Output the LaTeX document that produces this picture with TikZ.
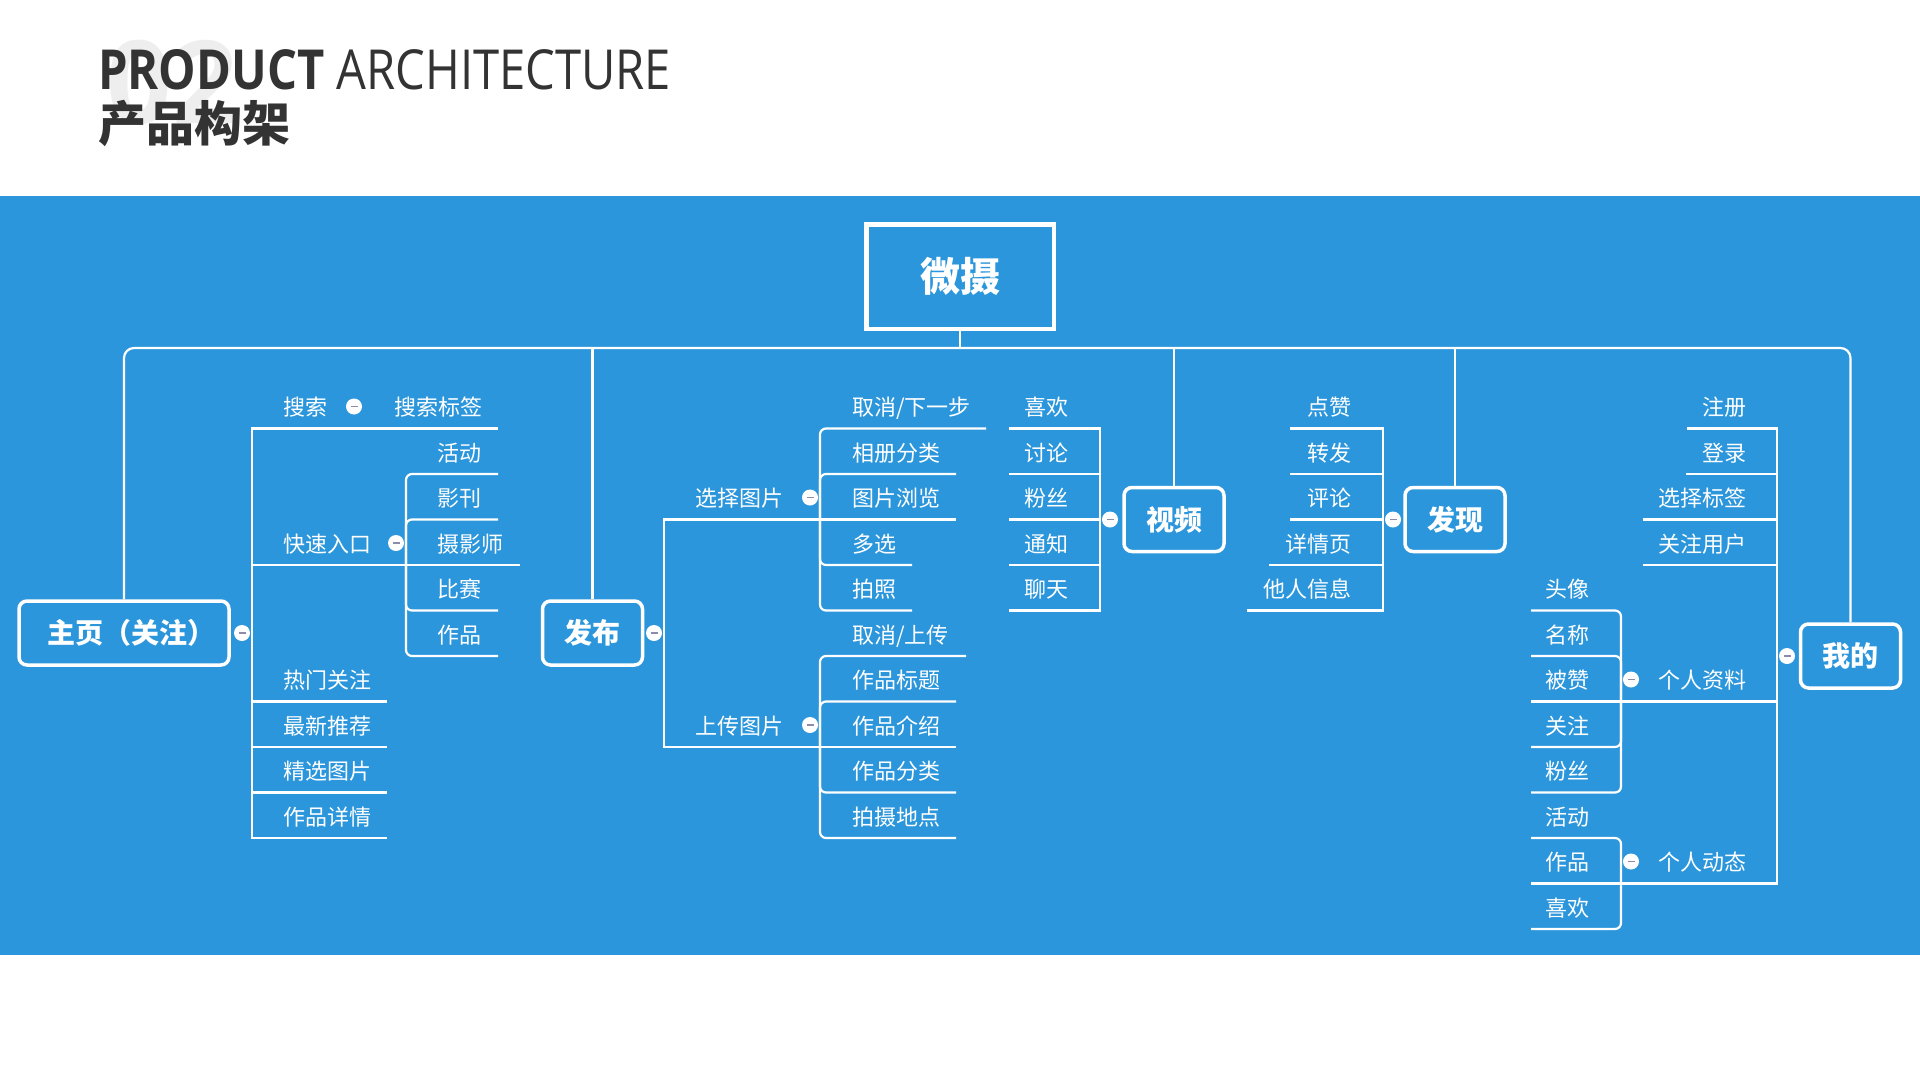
\documentclass[tikz,border=0pt]{standalone}
\usepackage{fontspec}
\newfontfamily\cjk{Noto Sans CJK SC}
\newfontfamily\titlefont{Open Sans}
\definecolor{band}{RGB}{43,150,219}
\definecolor{titlec}{RGB}{51,51,51}
\definecolor{minusc}{RGB}{140,140,170}
\definecolor{wm}{RGB}{238,238,238}
\begin{document}
\begin{tikzpicture}[x=1pt,y=-1pt,
  l1/.style={draw=white, line width=2.2pt},
  l2/.style={l1, rounded corners=6pt},
  lbl/.style={inner sep=0, text=white, font=\cjk\fontsize{22}{22}\selectfont, text height=19.35pt, text depth=2.65pt},
  box/.style={draw=white, line width=3.5pt, rounded corners=8pt, minimum width=100pt, minimum height=64pt, inner sep=0, text=white, font=\cjk\bfseries\fontsize{28}{28}\selectfont, text height=24.6pt, text depth=3.4pt},
  rootbox/.style={draw=white, line width=4.5pt, minimum width=187.5pt, minimum height=104.5pt, inner sep=0, text=white, font=\cjk\bfseries\fontsize{40}{40}\selectfont, text height=35.2pt, text depth=4.8pt},
  circ/.style={circle, fill=white, inner sep=0, minimum size=16pt, path picture={\draw[minusc, line width=1.8pt] ([xshift=-3.5pt]path picture bounding box.center) -- ([xshift=3.5pt]path picture bounding box.center);}}
]
\useasboundingbox (0,0) rectangle (1920,1080);
\fill[white] (0,0) rectangle (1920,1080);
\fill[band] (0,196) rectangle (1920,954.5);

% title
\node[inner sep=0, text=wm, font=\titlefont\bfseries\fontsize{115}{115}\selectfont] (wmark) at (172,82) {02};
\node[anchor=base west, inner sep=0, text=titlec] (titleEn) at (98,89) {\resizebox{573pt}{40pt}{\titlefont\textbf{PRODUCT} ARCHITECTURE}};
\node[inner sep=0, text=titlec, font=\cjk\bfseries\fontsize{48}{48}\selectfont, text height=42.2pt, text depth=5.8pt] (titleCn) at (194.5,123.5) {产品构架};

% main boxes
\node[rootbox] (root) at (960,276.5) {微摄};
\node[box, minimum width=210pt] (zhuye) at (124,633) {\hspace*{15pt}主页（关注）};
\node[box] (fabu) at (592.5,633) {发布};
\node[box] (shipin) at (1174,519.5) {视频};
\node[box] (faxian) at (1455,519.5) {发现};
\node[box] (wode) at (1850.5,656) {我的};

% bus
\coordinate (bus) at (960,348);
\draw[l1] (root.south) -- (bus);
\draw[l1, rounded corners=10pt] (zhuye.north) -- (zhuye.north |- bus) -- (wode.north |- bus) -- (wode.north);
\draw[l1] (fabu.north) -- (fabu.north |- bus);
\draw[l1] (shipin.north) -- (shipin.north |- bus);
\draw[l1] (faxian.north) -- (faxian.north |- bus);

% collapse circles
\node[circ] (czy) at (242,633) {};
\node[circ] (cfb) at (654,633) {};
\node[circ] (csp) at (1110,519.5) {};
\node[circ] (cfx) at (1393,519.5) {};
\node[circ] (cwd) at (1787,656) {};
\node[circ] (css) at (354,406.5) {};
\node[circ] (ckr) at (396,543) {};
\node[circ] (cxz) at (810,497.5) {};
\node[circ] (csc) at (810,725) {};
\node[circ] (czl) at (1631,679.5) {};
\node[circ] (cdt) at (1631,861.5) {};

% ===== 主页 branch =====
\node[lbl, anchor=west] (ss) at (283,407.5) {搜索};
\node[lbl, anchor=west] (ssbq) at (394,407.5) {搜索标签};
\coordinate (ss-j) at (364,428.5);
\coordinate (ssbq-e) at (498,428.5);
\draw[l1] (czy.east) ++(2,0) |- (ss-j);
\draw[l1] (ss-j) -- (ssbq-e);

\node[lbl, anchor=west] (ksrk) at (283,544) {快速入口};
\coordinate (kr-j) at (406,565);
\draw[l1] (czy.east) ++(2,0) |- (kr-j);
\node[lbl, anchor=west] (hd1) at (437,453) {活动};
\node[lbl, anchor=west] (yk) at (437,498.5) {影刊};
\node[lbl, anchor=west] (sys) at (437,544) {摄影师};
\node[lbl, anchor=west] (bs) at (437,589.5) {比赛};
\node[lbl, anchor=west] (zp1) at (437,635) {作品};
\coordinate (hd1-e) at (498,474);
\coordinate (yk-e) at (498,519.5);
\coordinate (sys-e) at (520,565);
\coordinate (bs-e) at (498,610.5);
\coordinate (zp1-e) at (498,656);
\draw[l2] (kr-j) |- (hd1-e);
\draw[l2] (kr-j) |- (yk-e);
\draw[l1] (kr-j) -- (sys-e);
\draw[l2] (kr-j) |- (bs-e);
\draw[l2] (kr-j) |- (zp1-e);

\node[lbl, anchor=west] (rmgz) at (283,680.5) {热门关注};
\node[lbl, anchor=west] (zxtj) at (283,726) {最新推荐};
\node[lbl, anchor=west] (jxtp) at (283,771.5) {精选图片};
\node[lbl, anchor=west] (zpxq) at (283,817) {作品详情};
\coordinate (rmgz-e) at (387,701.5);
\coordinate (zxtj-e) at (387,747);
\coordinate (jxtp-e) at (387,792.5);
\coordinate (zpxq-e) at (387,838);
\draw[l1] (czy.east) ++(2,0) |- (rmgz-e);
\draw[l1] (czy.east) ++(2,0) |- (zxtj-e);
\draw[l1] (czy.east) ++(2,0) |- (jxtp-e);
\draw[l1] (czy.east) ++(2,0) |- (zpxq-e);

% ===== 发布 branch =====
\node[lbl, anchor=west] (xztp) at (695.5,498.5) {选择图片};
\coordinate (xz-j) at (820,519.5);
\draw[l1] (cfb.east) ++(2,0) |- (xz-j);
\node[lbl, anchor=west] (qx1) at (852,407.5) {取消/下一步};
\node[lbl, anchor=west] (xcfl) at (852,453) {相册分类};
\node[lbl, anchor=west] (tpll) at (852,498.5) {图片浏览};
\node[lbl, anchor=west] (dx) at (852,544) {多选};
\node[lbl, anchor=west] (pz) at (852,589.5) {拍照};
\coordinate (qx1-e) at (986,428.5);
\coordinate (xcfl-e) at (956,474);
\coordinate (tpll-e) at (956,519.5);
\coordinate (dx-e) at (912,565);
\coordinate (pz-e) at (912,610.5);
\draw[l2] (xz-j) |- (qx1-e);
\draw[l2] (xz-j) |- (xcfl-e);
\draw[l1] (xz-j) -- (tpll-e);
\draw[l2] (xz-j) |- (dx-e);
\draw[l2] (xz-j) |- (pz-e);

\node[lbl, anchor=west] (sctp) at (695.5,726) {上传图片};
\coordinate (sc-j) at (820,747);
\draw[l1] (cfb.east) ++(2,0) |- (sc-j);
\node[lbl, anchor=west] (qxsc) at (852,635) {取消/上传};
\node[lbl, anchor=west] (zpbt) at (852,680.5) {作品标题};
\node[lbl, anchor=west] (zpjs) at (852,726) {作品介绍};
\node[lbl, anchor=west] (zpfl) at (852,771.5) {作品分类};
\node[lbl, anchor=west] (psdd) at (852,817) {拍摄地点};
\coordinate (qxsc-e) at (966,656);
\coordinate (zpbt-e) at (956,701.5);
\coordinate (zpjs-e) at (956,747);
\coordinate (zpfl-e) at (956,792.5);
\coordinate (psdd-e) at (956,838);
\draw[l2] (sc-j) |- (qxsc-e);
\draw[l2] (sc-j) |- (zpbt-e);
\draw[l1] (sc-j) -- (zpjs-e);
\draw[l2] (sc-j) |- (zpfl-e);
\draw[l2] (sc-j) |- (psdd-e);

% ===== 视频 branch =====
\node[lbl, anchor=east] (xh1) at (1069,407.5) {喜欢};
\node[lbl, anchor=east] (tl) at (1069,453) {讨论};
\node[lbl, anchor=east] (fs1) at (1069,498.5) {粉丝};
\node[lbl, anchor=east] (tz) at (1069,544) {通知};
\node[lbl, anchor=east] (lt) at (1069,589.5) {聊天};
\coordinate (xh1-e) at (1009,428.5);
\coordinate (tl-e) at (1009,474);
\coordinate (fs1-e) at (1009,519.5);
\coordinate (tz-e) at (1009,565);
\coordinate (lt-e) at (1009,610.5);
\draw[l1] (csp.west) ++(-2,0) |- (xh1-e);
\draw[l1] (csp.west) ++(-2,0) |- (tl-e);
\draw[l1] (csp.west) ++(-2,0) |- (fs1-e);
\draw[l1] (csp.west) ++(-2,0) |- (tz-e);
\draw[l1] (csp.west) ++(-2,0) |- (lt-e);

% ===== 发现 branch =====
\node[lbl, anchor=east] (dz) at (1352,407.5) {点赞};
\node[lbl, anchor=east] (zf) at (1352,453) {转发};
\node[lbl, anchor=east] (pl) at (1352,498.5) {评论};
\node[lbl, anchor=east] (xqy) at (1352,544) {详情页};
\node[lbl, anchor=east] (trxx) at (1352,589.5) {他人信息};
\coordinate (dz-e) at (1290,428.5);
\coordinate (zf-e) at (1290,474);
\coordinate (pl-e) at (1290,519.5);
\coordinate (xqy-e) at (1269,565);
\coordinate (trxx-e) at (1247,610.5);
\draw[l1] (cfx.west) ++(-2,0) |- (dz-e);
\draw[l1] (cfx.west) ++(-2,0) |- (zf-e);
\draw[l1] (cfx.west) ++(-2,0) |- (pl-e);
\draw[l1] (cfx.west) ++(-2,0) |- (xqy-e);
\draw[l1] (cfx.west) ++(-2,0) |- (trxx-e);

% ===== 我的 branch =====
\node[lbl, anchor=east] (zc) at (1747,407.5) {注册};
\node[lbl, anchor=east] (dl) at (1747,453) {登录};
\node[lbl, anchor=east] (xzbq) at (1747,498.5) {选择标签};
\node[lbl, anchor=east] (gzyh) at (1747,544) {关注用户};
\node[lbl, anchor=east] (grzl) at (1747,680.5) {个人资料};
\node[lbl, anchor=east] (grdt) at (1747,862.5) {个人动态};
\coordinate (zc-e) at (1687,428.5);
\coordinate (dl-e) at (1686,474);
\coordinate (xzbq-e) at (1643,519.5);
\coordinate (gzyh-e) at (1643,565);
\coordinate (zl-j) at (1621,701.5);
\coordinate (dt-j) at (1621,883.5);
\draw[l1] (cwd.west) ++(-2,0) |- (zc-e);
\draw[l1] (cwd.west) ++(-2,0) |- (dl-e);
\draw[l1] (cwd.west) ++(-2,0) |- (xzbq-e);
\draw[l1] (cwd.west) ++(-2,0) |- (gzyh-e);
\draw[l1] (cwd.west) ++(-2,0) |- (zl-j);
\draw[l1] (cwd.west) ++(-2,0) |- (dt-j);

\node[lbl, anchor=east] (tx) at (1590,589.5) {头像};
\node[lbl, anchor=east] (mc) at (1590,635) {名称};
\node[lbl, anchor=east] (bz) at (1590,680.5) {被赞};
\node[lbl, anchor=east] (gz) at (1590,726) {关注};
\node[lbl, anchor=east] (fs2) at (1590,771.5) {粉丝};
\coordinate (tx-e) at (1531,610.5);
\coordinate (mc-e) at (1531,656);
\coordinate (bz-e) at (1531,701.5);
\coordinate (gz-e) at (1531,747);
\coordinate (fs2-e) at (1531,792.5);
\draw[l2] (zl-j) |- (tx-e);
\draw[l2] (zl-j) |- (mc-e);
\draw[l1] (zl-j) -- (bz-e);
\draw[l2] (zl-j) |- (gz-e);
\draw[l2] (zl-j) |- (fs2-e);

\node[lbl, anchor=east] (hd2) at (1590,817) {活动};
\node[lbl, anchor=east] (zp2) at (1590,862.5) {作品};
\node[lbl, anchor=east] (xh2) at (1590,908) {喜欢};
\coordinate (hd2-e) at (1531,838);
\coordinate (zp2-e) at (1531,883.5);
\coordinate (xh2-e) at (1531,929);
\draw[l2] (dt-j) |- (hd2-e);
\draw[l1] (dt-j) -- (zp2-e);
\draw[l2] (dt-j) |- (xh2-e);
\end{tikzpicture}
\end{document}
